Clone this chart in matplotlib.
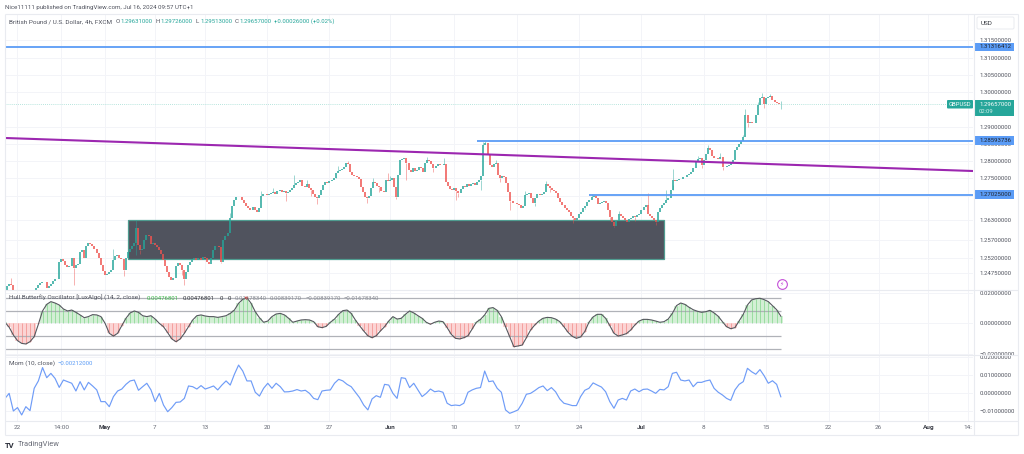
"""
plot.py
GBP/USD 4h con Hull Butterfly Oscillator y Momentum (captura estilo TradingView).
"""
import numpy as np
import matplotlib
matplotlib.use("Agg")
import matplotlib.pyplot as plt
from matplotlib.patches import Rectangle, FancyBboxPatch
from matplotlib.ticker import FuncFormatter

plt.rcParams["font.family"] = ["Roboto", "DejaVu Sans"]

W, H = 1024, 454
UP, DOWN = "#26a69a", "#ef5350"
BLUE, PURPLE = "#5b9cf6", "#9c27b0"
GRID, FRAME = "#f3f4f8", "#e9ebf0"
TXT = "#50535e"

# cierres por barra de 4h
closes = [
    1.2426, 1.2438, 1.2443, 1.2441, 1.2420, 1.2410, 1.2405, 1.2400, 1.2395, 1.2398,
    1.2390, 1.2395, 1.2392, 1.2402, 1.2412, 1.2432, 1.2440, 1.2446, 1.2449, 1.2449,
    1.2432, 1.2437, 1.2443, 1.2452, 1.2458, 1.2458, 1.2507, 1.2516, 1.2510, 1.2498,
    1.2493, 1.2495, 1.2519, 1.2490, 1.2498, 1.2501, 1.2536, 1.2542, 1.2519, 1.2553,
    1.2562, 1.2559, 1.2553, 1.2545, 1.2533, 1.2519, 1.2498, 1.2481, 1.2469, 1.2472,
    1.2478, 1.2484, 1.2513, 1.2524, 1.2527, 1.2519, 1.2516, 1.2484, 1.2519, 1.2536,
    1.2545, 1.2553, 1.2562, 1.2606, 1.2556, 1.2542, 1.2545, 1.2571, 1.2585, 1.2582,
    1.2559, 1.2562, 1.2556, 1.2550, 1.2542, 1.2530, 1.2513, 1.2495, 1.2478, 1.2464,
    1.2455, 1.2461, 1.2495, 1.2504, 1.2498, 1.2484, 1.2458, 1.2478, 1.2498, 1.2507,
    1.2516, 1.2519, 1.2513, 1.2519, 1.2513, 1.2522, 1.2519, 1.2507, 1.2501, 1.2519,
    1.2542, 1.2553, 1.2553, 1.2550, 1.2507, 1.2571, 1.2582, 1.2591, 1.2635, 1.2669,
    1.2687, 1.2696, 1.2696, 1.2696, 1.2687, 1.2678, 1.2669, 1.2664, 1.2658, 1.2667,
    1.2658, 1.2652, 1.2664, 1.2698, 1.2704, 1.2704, 1.2701, 1.2704, 1.2707, 1.2710,
    1.2704, 1.2713, 1.2716, 1.2710, 1.2713, 1.2707, 1.2710, 1.2716, 1.2722, 1.2730,
    1.2736, 1.2739, 1.2745, 1.2727, 1.2725, 1.2733, 1.2722, 1.2716, 1.2704, 1.2696,
    1.2693, 1.2701, 1.2716, 1.2730, 1.2739, 1.2736, 1.2742, 1.2745, 1.2751, 1.2765,
    1.2771, 1.2774, 1.2777, 1.2783, 1.2794, 1.2791, 1.2768, 1.2759, 1.2756, 1.2754,
    1.2748, 1.2725, 1.2710, 1.2696, 1.2693, 1.2698, 1.2722, 1.2739, 1.2736, 1.2727,
    1.2725, 1.2713, 1.2710, 1.2745, 1.2742, 1.2745, 1.2751, 1.2725, 1.2696, 1.2759,
    1.2803, 1.2806, 1.2809, 1.2794, 1.2774, 1.2768, 1.2780, 1.2771, 1.2774, 1.2783,
    1.2780, 1.2768, 1.2794, 1.2803, 1.2800, 1.2791, 1.2780, 1.2786, 1.2791, 1.2788,
    1.2788, 1.2791, 1.2739, 1.2727, 1.2719, 1.2716, 1.2722, 1.2713, 1.2707, 1.2719,
    1.2727, 1.2725, 1.2733, 1.2727, 1.2733, 1.2736, 1.2730, 1.2739, 1.2745, 1.2756,
    1.2846, 1.2852, 1.2817, 1.2788, 1.2783, 1.2791, 1.2794, 1.2759, 1.2751, 1.2756,
    1.2754, 1.2736, 1.2710, 1.2684, 1.2678, 1.2678, 1.2675, 1.2672, 1.2664, 1.2669,
    1.2701, 1.2704, 1.2707, 1.2693, 1.2678, 1.2693, 1.2704, 1.2701, 1.2704, 1.2710,
    1.2733, 1.2727, 1.2722, 1.2716, 1.2713, 1.2707, 1.2693, 1.2681, 1.2672, 1.2664,
    1.2658, 1.2652, 1.2641, 1.2635, 1.2629, 1.2635, 1.2646, 1.2652, 1.2664, 1.2669,
    1.2681, 1.2687, 1.2696, 1.2698, 1.2693, 1.2675, 1.2678, 1.2681, 1.2684, 1.2678,
    1.2658, 1.2637, 1.2623, 1.2611, 1.2626, 1.2646, 1.2641, 1.2635, 1.2629, 1.2623,
    1.2632, 1.2635, 1.2641, 1.2637, 1.2643, 1.2646, 1.2658, 1.2667, 1.2672, 1.2646,
    1.2641, 1.2635, 1.2629, 1.2623, 1.2652, 1.2664, 1.2672, 1.2678, 1.2687, 1.2693,
    1.2716, 1.2745, 1.2742, 1.2745, 1.2748, 1.2748, 1.2754, 1.2754, 1.2759, 1.2762,
    1.2768, 1.2780, 1.2797, 1.2806, 1.2809, 1.2788, 1.2803, 1.2820, 1.2838, 1.2832,
    1.2814, 1.2809, 1.2809, 1.2806, 1.2812, 1.2783, 1.2783, 1.2786, 1.2788, 1.2794,
    1.2803, 1.2832, 1.2841, 1.2849, 1.2858, 1.2870, 1.2933, 1.2910, 1.2913, 1.2910,
    1.2910, 1.2933, 1.2962, 1.2983, 1.2986, 1.2965, 1.2983, 1.2986, 1.2988, 1.2977,
    1.2971, 1.2968, 1.2965, 1.29657,
]

# mechas destacadas (indice de barra y precio)
high_idx = [3, 52, 63, 70, 108, 123, 129, 139, 145, 160, 165, 177, 184, 185, 203, 211, 230,
            231, 236, 250, 260, 282, 295, 309, 318, 321, 333, 338, 344, 355, 356, 362, 364,
            368, 373]
high_vals = [1.2461, 1.2545, 1.2629, 1.2575, 1.2650, 1.2712, 1.2722, 1.2759, 1.2745, 1.2785,
             1.2800, 1.2750, 1.2765, 1.2757, 1.2812, 1.2809, 1.2855, 1.2859, 1.2803, 1.2712,
             1.2742, 1.2705, 1.2655, 1.2707, 1.2716, 1.2777, 1.2815, 1.2845, 1.2822, 1.2875,
             1.2951, 1.2970, 1.2997, 1.2994, 1.2973]
low_idx = [33, 57, 63, 65, 85, 86, 104, 135, 147, 150, 159, 174, 180, 188, 193, 206, 217, 218,
           229, 238, 243, 255, 262, 273, 279, 291, 293, 303, 313, 321, 335, 345, 357, 365, 373]
low_vals = [1.2440, 1.2467, 1.2527, 1.2530, 1.2470, 1.2440, 1.2504, 1.2684, 1.2700, 1.2675,
            1.2755, 1.2678, 1.2710, 1.2690, 1.2745, 1.2768, 1.2687, 1.2695, 1.2716, 1.2740,
            1.2658, 1.2670, 1.2710, 1.2620, 1.2660, 1.2628, 1.2608, 1.2625, 1.2614, 1.2730,
            1.2780, 1.2775, 1.2900, 1.2955, 1.2951]

# Hull Butterfly (milesimas, una lectura cada dos barras)
hull_milli = [
    0.8, -2.5, -7.5, -11.2, -13.0, -13.4, -11.9, -8.6, -0.5, 8.2, 12.5, 14.3, 13.4, 12.1,
    9.5, 8.2, 8.8, 7.3, 5.6, 3.8, 4.5, 5.8, 5.6, 4.5, 0.1, -6.4, -8.2, -6.4, -1.4, 3.4,
    6.9, 8.2, 7.3, 5.1, 4.5, 5.1, 2.9, 0.1, -2.1, -6.0, -10.1, -11.9, -10.1, -6.4, -2.1,
    2.3, 5.1, 5.6, 4.9, 4.5, 4.5, 4.0, 4.5, 5.1, 6.6, 8.8, 13.2, 15.8, 16.9, 13.2, 7.7,
    3.8, 0.8, 1.6, 4.5, 6.2, 6.6, 5.6, 3.4, 0.8, 1.6, 2.3, 2.5, 2.3, 1.2, -2.1, -2.7,
    -1.9, 0.8, 2.9, 6.0, 8.4, 8.8, 6.6, 2.3, -1.4, -4.9, -8.0, -9.3, -8.0, -4.9, -2.1,
    1.6, 4.5, 2.9, 3.4, 6.0, 8.2, 6.9, 5.1, 3.4, 0.8, -0.5, 0.8, 1.6, 1.2, -2.7, -7.1,
    -9.7, -10.1, -9.3, -8.0, -3.6, 0.8, 2.7, 5.6, 9.9, 10.4, 8.6, 4.5, -2.1, -8.6, -15.2,
    -14.7, -14.1, -9.3, -4.3, -1.0, 1.6, 3.4, 4.0, 3.8, 2.9, 1.2, -2.1, -5.8, -8.4, -9.7,
    -8.8, -5.3, 0.8, 4.3, 6.0, 6.0, 3.4, -1.4, -6.4, -8.2, -7.5, -6.6, -4.3, -1.0, 1.6,
    2.7, 2.7, 2.3, 1.6, 0.8, 1.2, 2.9, 6.6, 11.7, 13.4, 12.5, 10.6, 9.0, 8.0, 7.3, 7.7,
    8.6, 6.9, 4.7, 1.2, -2.1, -3.4, -2.7, 1.6, 6.0, 12.1, 15.4, 16.2, 16.5, 15.6, 14.3,
    11.7, 9.0, 4.8,
]
hull_levels = [0.0167834, 0.0083917, -0.0083917, -0.0167834]

# Momentum (milesimas, una lectura cada dos barras)
mom_milli = [
    -3.0, -0.2, -10.0, -8.1, -12.2, -7.6, -9.8, 2.6, 6.7, 14.1, 8.5, 10.9, 8.1, 3.1, 7.2,
    6.3, 5.4, 1.1, 6.3, 1.7, 5.9, 3.9, 1.7, -4.8, -4.8, -7.6, -2.0, 1.1, 2.2, 4.8, 6.7,
    7.2, 1.5, 3.5, 5.4, 1.7, -4.8, -0.2, -6.7, -10.4, -8.1, -5.2, -5.0, -3.0, 3.9, 3.5,
    2.2, 4.1, 2.2, 3.0, 3.9, 1.7, 4.4, 6.7, 4.4, 10.4, 15.5, 12.2, 6.7, 6.7, 0.4, -1.7,
    2.6, 5.4, 2.6, 5.4, 3.5, 0.6, 0.7, 1.1, 1.9, 1.1, 1.5, -0.2, -3.0, -3.7, 1.1, 1.5,
    1.7, 5.4, 7.6, 6.7, 4.8, 3.5, 0.4, -2.6, -6.7, -9.4, -3.3, -1.5, -2.4, 4.8, 4.4,
    -0.2, -3.0, 8.5, 8.1, 3.0, 5.4, 1.7, -2.0, -0.2, 2.2, 0.7, 1.1, 0.4, -5.7, -7.0,
    -6.7, -7.0, -5.7, 0.4, 1.7, 2.6, 3.0, 12.2, 6.3, 6.7, 2.6, 0.4, -9.4, -11.3, -10.4,
    -9.4, -5.7, -0.7, -0.2, 1.3, 3.0, 3.9, 1.3, 3.0, 0.7, -3.3, -5.7, -6.3, -7.0, -7.0,
    -2.0, 1.5, 2.6, 5.6, 4.4, 3.3, 0.7, -4.8, -8.5, -3.9, -3.0, -3.9, 1.1, 2.2, 0.7, 2.0,
    2.2, 1.1, -0.2, 2.0, 1.7, 3.5, 10.9, 11.5, 7.2, 6.7, 7.2, 3.5, 5.9, 5.9, 6.7, 7.2,
    2.6, 0.4, -1.1, -3.0, -4.1, 1.7, 4.8, 6.3, 13.7, 11.8, 10.4, 13.0, 9.6, 5.4, 6.8, 4.8,
    -2.1,
]

price_ticks = [1.315, 1.31, 1.305, 1.30, 1.29, 1.285, 1.28, 1.275, 1.27, 1.263, 1.257, 1.252, 1.2475]
hull_ticks = [0.02, 0.0, -0.02]
mom_ticks = [0.02, 0.01, 0.0, -0.01]
time_pos = [6, 27, 48, 72, 96, 126, 156, 185, 216, 246, 276, 306, 336, 366, 396, 420, 444, 463]
time_labels = ["22", "14:00", "May", "7", "13", "20", "27", "Jun", "10", "17", "24",
               "Jul", "8", "15", "22", "26", "Aug", "14:"]
month_labels = ["May", "Jun", "Jul", "Aug"]

level_1 = 1.31316412
level_2 = 1.28593736
level_3 = 1.27025000
last_price = 1.29657000
trend_prices = [1.28667, 1.27710]
zone_top, zone_bottom = 1.26304, 1.25160
XMAX = 465.4


def fmt_price(v, _=None):
    return f"{v:.8f}".replace("-", "\u2212")


def pane(fig, top, bottom, ylim, ticks):
    ax = fig.add_axes([5 / W, 1 - bottom / H, 968 / W, (bottom - top) / H])
    ax.set_xlim(0, XMAX)
    ax.set_ylim(*ylim)
    ax.set_xticks(time_pos)
    ax.set_xticklabels([])
    ax.yaxis.tick_right()
    ax.set_yticks(ticks)
    ax.yaxis.set_major_formatter(FuncFormatter(fmt_price))
    ax.tick_params(length=0, labelsize=4.3, labelcolor=TXT, pad=4.5)
    ax.grid(color=GRID, lw=0.7)
    ax.set_axisbelow(True)
    for s in ax.spines.values():
        s.set_visible(False)
    return ax


def draw_candles(ax):
    c = np.array(closes)
    o = np.r_[c[0], c[:-1]]
    x = np.arange(len(c))
    up = c >= o
    hi, lo = np.maximum(o, c), np.minimum(o, c)
    for mask, col in ((up, UP), (~up, DOWN)):
        ax.vlines(x[mask], lo[mask], hi[mask], color=col, lw=1.1, zorder=4)
    # mechas (color de la vela, mas palidas)
    for i, v in zip(high_idx, high_vals):
        ax.vlines(i, hi[i], v, color=UP if up[i] else DOWN, lw=0.7, alpha=0.45, zorder=3)
    for i, v in zip(low_idx, low_vals):
        ax.vlines(i, v, lo[i], color=UP if up[i] else DOWN, lw=0.7, alpha=0.45, zorder=3)


def draw_hull(ax):
    v = np.array(hull_milli) / 1000
    x = np.linspace(0, len(closes) - 1, len(v))
    pos = v >= 0
    step = x[1] - x[0]
    ax.bar(x[pos], v[pos], width=step, color="#d3efd5", lw=0, zorder=2)
    ax.bar(x[~pos], v[~pos], width=step, color="#fbd4d4", lw=0, zorder=2)
    ax.vlines(x[pos], 0, v[pos], color="#6fcf7a", lw=0.5, alpha=0.8, zorder=3)
    ax.vlines(x[~pos], 0, v[~pos], color="#ef7a76", lw=0.5, alpha=0.8, zorder=3)
    ax.hlines(hull_levels, 0, len(closes) - 1, color="#b0b2b8", lw=0.9, zorder=2)
    ax.plot(x, v, color="#55585e", lw=0.8, zorder=5)


def draw_overlay(fig):
    ov = fig.add_axes([0, 0, 1, 1], zorder=10)
    ov.set_xlim(0, W)
    ov.set_ylim(H, 0)
    ov.axis("off")
    ov.patch.set_visible(False)

    # marcos de los paneles
    ov.hlines([14, 290, 355, 421, 435], 5, 1018, color=FRAME, lw=0.8)
    ov.vlines([5, 974, 1018], 14, 435, color=FRAME, lw=0.8)

    def text(x, y, s, color=TXT, size=4.3, **kw):
        ov.text(x, y, s, color=color, fontsize=size, va="center", **kw)

    text(5, 7.5, "Nice11111 published on TradingView.com, Jul 16, 2024 09:57 UTC+1", size=4.45)
    text(9, 21.5, "British Pound / U.S. Dollar, 4h, FXCM", size=4.55)
    teal = "#26a69a"
    for x, lab, val in ((116, "O", "1.29631000"), (156, "H", "1.29726000"),
                        (196, "L", "1.29513000"), (235, "C", "1.29657000")):
        text(x, 21.5, lab, size=4.4)
        text(x + 4.2, 21.5, val, color=teal)
    text(274, 21.5, "+0.00026000 (+0.02%)", color=teal)

    text(9, 298, "Hull Butterfly Oscillator [LuxAlgo] (14, 2, close)", size=4.6)
    text(147, 298, "0.00476801", color="#3cb54a")
    text(183, 298, "0.00476801", color="#33363d")
    text(220, 298, "0", color="#33363d")
    text(228, 298, "0", color="#33363d")
    for x, s in ((235, "0.01678340"), (270, "0.00839170"),
                 (306, "\u22120.00839170"), (344, "\u22120.01678340")):
        text(x, 298, s, color="#8a8d95")
    ov.plot([246], [297.5], "v", color="#e53935", ms=2.5, mew=0)

    text(9, 363.5, "Mom (10, close)", size=4.6)
    text(58, 363.5, "\u22120.00212000", color=BLUE)

    text(5, 445, "TV", color="#2a2e39", size=5.5, fontweight="bold")
    text(18, 445, "TradingView", color="#6a6d78", size=5.4)

    # etiquetas de la escala de precios
    ov.add_patch(FancyBboxPatch((977, 17), 37, 12, boxstyle="round,pad=0,rounding_size=1.5",
                                fc="white", ec=FRAME, lw=0.7))
    text(981, 23.3, "USD", color="#33363d", size=4.6)
    for lev, y in ((level_1, 47), (level_2, 140.6), (level_3, 194.6)):
        ov.add_patch(Rectangle((974, y - 4.2), 39.5, 8.4, fc=BLUE, ec="none"))
        text(979, y, fmt_price(lev), color="#20232b")
    ov.add_patch(Rectangle((974, 100), 39.5, 15.5, fc="#26a69a", ec="none"))
    text(979, 104.2, fmt_price(last_price), color="white")
    text(979, 111.5, "02:09", color="#cfeee9", size=4.2)
    ov.add_patch(FancyBboxPatch((947, 100), 26, 8.5, boxstyle="round,pad=0,rounding_size=1",
                                fc="#26a69a", ec="none"))
    text(949, 104.3, "GBPUSD", color="white", size=4.2)

    # icono de alerta
    ov.plot([782], [284], "o", ms=7, mfc="white", mec="#c44fd8", mew=0.8)
    ov.text(782, 284, "\u26a1", color="#c44fd8", fontsize=4.2, ha="center", va="center",
            family=["DejaVu Sans"])


def main():
    fig = plt.figure(figsize=(W / 100, H / 100), dpi=100, facecolor="white")

    ax1 = pane(fig, 14, 290, (1.24261, 1.32261), price_ticks)
    ax2 = pane(fig, 290, 355, (-0.0206, 0.0219), hull_ticks)
    ax3 = pane(fig, 355, 421, (-0.01556, 0.0211), mom_ticks)

    # zona oscura y niveles
    ax1.add_patch(Rectangle((59.1, zone_bottom), 257.7, zone_top - zone_bottom,
                            fc="#50535e", ec="#4f9c90", lw=0.9, zorder=2))
    ax1.hlines(level_1, 0, XMAX, color=BLUE, lw=1.3, zorder=5)
    ax1.hlines(level_2, 227, XMAX, color=BLUE, lw=1.3, zorder=5)
    ax1.hlines(level_3, 281, XMAX, color=BLUE, lw=1.3, zorder=5)
    ax1.plot([0, XMAX], trend_prices, color=PURPLE, lw=1.5, zorder=5)
    ax1.axhline(last_price, color="#9fdcd2", lw=0.6, ls=(0, (1, 1.5)), zorder=2)
    draw_candles(ax1)

    draw_hull(ax2)

    mom = np.array(mom_milli) / 1000
    ax3.plot(np.linspace(0, len(closes) - 1, len(mom)), mom, color="#6f9cf7", lw=0.85)
    ax3.set_xticklabels(time_labels)
    ax3.tick_params(axis="x", labelsize=4.6, labelcolor="#666a75", pad=3.2)
    for t in ax3.get_xticklabels():
        if t.get_text() in month_labels:
            t.set_fontweight("bold")
            t.set_color("#3c3f48")

    draw_overlay(fig)
    fig.savefig("out.png", dpi=100)
    plt.close(fig)


if __name__ == "__main__":
    main()
